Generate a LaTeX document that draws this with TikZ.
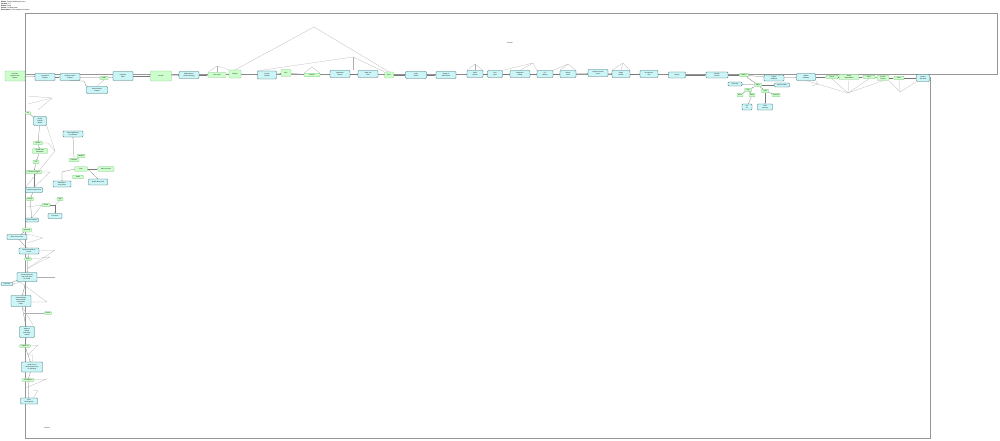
\documentclass[tikz,border=0pt]{standalone}
\usepackage{fontspec}
\setmainfont{Liberation Sans}
\definecolor{pdcyan}{RGB}{204,245,247}
\definecolor{pdteal}{RGB}{45,105,110}
\definecolor{pdgreen}{RGB}{204,255,204}
\definecolor{pdgreenline}{RGB}{130,190,130}
\definecolor{pdgrey}{RGB}{120,120,120}
\definecolor{pdlight}{RGB}{175,175,175}
\definecolor{pdframe}{RGB}{150,150,150}
\usetikzlibrary{arrows.meta,positioning}
\newcommand{\nodetext}{\fontsize{2.2}{2.6}\selectfont}
\newcommand{\headtext}{\fontsize{2.4}{2.9}\selectfont}

\begin{document}
\begin{tikzpicture}[x=0.05cm,y=-0.05cm,
  task/.style={draw=pdteal, fill=pdcyan, rounded corners=1.2pt, line width=0.4pt,
      font=\nodetext, align=center, inner sep=0.3pt, minimum height=0.35cm},
  gate/.style={draw=pdgreenline, fill=pdgreen, rounded corners=1pt, line width=0.3pt,
      font=\nodetext, align=center, inner sep=0.3pt, minimum height=0.18cm},
  seqline/.style={draw=pdgrey, line width=0.35pt, -{Stealth[length=1.2pt,width=1.1pt]}},
  backline/.style={draw=pdlight, line width=0.3pt},
  laneframe/.style={draw=pdframe, line width=0.6pt}]
\useasboundingbox (0,0) rectangle (1000,441);

% Header
\node[font=\headtext, align=left, anchor=north west, inner sep=0pt] (head) at (1,1)
  {\textbf{Name:} Feature delivery process\\\textbf{Version:} 1.0\\\textbf{Status:} Draft\\
   \textbf{Owner:} Product team\\\textbf{Description:} From request to release};

% Lanes
\draw[laneframe] (25,13) rectangle (997,74);
\draw[laneframe] (25,74) -- (25,438) -- (930,438) -- (930,77);
\node[font=\nodetext] (lanetop) at (510,43) {Product};
\node[font=\nodetext] (lanebot) at (47,428) {Product};

% Main row
\node[gate, minimum width=1cm, minimum height=0.5cm] (start) at (15,76) {Customer\\requests new\\feature};
\node[task, minimum width=1cm] (r1) at (45,77) {Log feature\\request};
\node[task, minimum width=1cm] (r2) at (70,77) {Analyse feature\\request};
\node[gate, minimum width=0.4cm] (r3) at (104,78) {Valid?};
\node[task, minimum width=1.05cm] (r4) at (97,90) {Reject feature\\request};
\node[task, minimum width=1cm, minimum height=0.45cm] (r5) at (123,76) {Estimate\\effort};
\node[gate, minimum width=1.05cm, minimum height=0.5cm] (r6) at (161,76) {Decide};
\node[task, minimum width=1cm] (r7) at (189,75) {Add feature to\\product backlog};
\node[gate, minimum width=0.9cm, minimum height=0.25cm] (r8) at (217,75) {Plan sprint};
\node[gate, minimum width=0.6cm, minimum height=0.4cm] (r9) at (235,74) {Ready?};
\node[task, minimum width=0.95cm, minimum height=0.4cm] (r10) at (267,75) {Design\\solution};
\node[gate, minimum width=0.5cm, minimum height=0.35cm] (r11) at (286,73) {OK?};
\node[gate, minimum width=0.8cm] (r12) at (312,75) {Review};
\node[task, minimum width=1cm] (r13) at (340,74) {Implement\\feature};
\node[task, minimum width=1cm] (r14) at (368,74) {Write unit\\tests};
\node[gate, minimum width=0.45cm, minimum height=0.3cm] (r15) at (389,75) {Pass?};
\node[task, minimum width=1.05cm] (r16) at (416,75) {Code\\review};
\node[task, minimum width=1cm] (r17) at (446,75) {Merge to\\main branch};
\node[task, minimum width=0.8cm] (r18) at (475,74) {Build\\release};
\node[task, minimum width=0.75cm] (r19) at (495,74) {Run\\tests};
\node[task, minimum width=1cm] (r20) at (520,74) {Integration\\testing};
\node[task, minimum width=0.8cm] (r21) at (545,74) {Fix\\defects};
\node[task, minimum width=0.8cm] (r22) at (568,74) {Retest\\build};
\node[task, minimum width=1cm] (r23) at (598,73) {Prepare release\\notes};
\node[task, minimum width=0.9cm] (r24) at (621,74) {Stage\\release};
\node[task, minimum width=0.9cm] (r25) at (649,74) {Acceptance\\test};
\node[task, minimum width=0.85cm, minimum height=0.3cm] (r26) at (677,75) {Deploy};
\node[task, minimum width=1.1cm, minimum height=0.3cm] (r27) at (717,75) {Monitor\\release};
\node[gate, minimum width=0.45cm] (r28) at (744,75) {Stable?};
\node[task, minimum width=1cm, minimum height=0.3cm] (r29) at (774,78) {Collect\\feedback};
\node[task, minimum width=0.95cm] (r30) at (806,77) {Update\\roadmap};
\node[gate, minimum width=0.6cm] (r31) at (832,77) {Report};
\node[gate, minimum width=1cm, minimum height=0.25cm] (r32) at (849,77) {Notify\\stakeholders};
\node[gate, minimum width=0.6cm] (r33) at (869,77) {Close};
\node[gate, minimum width=0.6cm, minimum height=0.25cm] (r34) at (883,78) {Archive\\request};
\node[gate, minimum width=0.5cm] (r35) at (899,78) {Done};
\node[task, minimum width=0.65cm] (r36) at (923,78) {Feature\\delivered};

\foreach \a/\b in {start/r1, r1/r2, r2/r3, r3/r5, r5/r6, r6/r7, r7/r8, r8/r9, r9/r10,
    r10/r11, r11/r12, r12/r13, r13/r14, r14/r15, r15/r16, r16/r17, r17/r18, r18/r19,
    r19/r20, r20/r21, r21/r22, r22/r23, r23/r24, r24/r25, r25/r26, r26/r27, r27/r28,
    r28/r29, r29/r30, r30/r31, r31/r32, r32/r33, r33/r34, r34/r35, r35/r36}
  \draw[seqline] (\a) -- (\b);
\draw[seqline] (r2.south) -- (84,81) -- (r4.north west);
\draw[backline] (r4.north) -- (r3.south);

% Branch after release check
\node[task, minimum width=0.7cm, minimum height=0.2cm] (b1) at (735,84) {Roll back};
\node[gate, minimum width=0.35cm] (b2) at (758,85) {Why?};
\node[task, minimum width=0.75cm, minimum height=0.2cm] (b3) at (782,85) {Open incident};
\node[gate, minimum width=0.35cm] (b4) at (748,90) {Bug};
\node[gate, minimum width=0.35cm] (b5) at (765,91) {Load};
\node[gate, minimum width=0.3cm] (b6) at (740,95) {Minor};
\node[gate, minimum width=0.3cm] (b7) at (752,95) {Major};
\node[gate, minimum width=0.4cm] (b8) at (776,95) {Scale up};
\node[task, minimum width=0.5cm, minimum height=0.3cm] (b9) at (747,107) {Hot\\fix};
\node[task, minimum width=0.75cm, minimum height=0.3cm] (b10) at (765,107) {Add\\capacity};
\draw[seqline] (r28) -- (b2);
\foreach \a/\b in {b2/b1, b2/b3, b2/b4, b2/b5, b4/b6, b4/b7, b5/b8, b7/b9, b5/b10}
  \draw[seqline] (\a) -- (\b);

% Top loops
\draw[backline] (r8.north west) -- (217,66) -- (r9.north west);
\draw[backline] (217,66) -- (r8.north);
\draw[backline] (r9.north) -- (314,27) -- (r15.north);
\draw[backline] (r10.north west) -- (353,57) -- (r15.north west);
\draw[backline] (353,57) -- (353,70);
\draw[backline] (r12.north west) -- (312,67) -- (r12.north east);
\draw[backline] (r18.north west) -- (475,64) -- (r18.north east);
\draw[backline] (475,64) -- (r18.north);
\draw[backline] (r19.north east) -- (533,63) -- (r21.north west);
\draw[backline] (533,63) -- (r20.north);
\draw[backline] (r21.north east) -- (568,64) -- (r22.north east);
\draw[backline] (568,64) -- (r22.north west);
\draw[backline] (r24.north west) -- (623,63) -- (r24.north east);
\draw[backline] (623,63) -- (r24.north);

% Closing loops
\draw[backline] (r30.south east) -- (818,84) -- (812,86);
\foreach \n in {r30, r31, r32, r33, r34}
  \draw[backline] (\n.south) -- (848,93);
\draw[backline] (r34.south east) -- (900,92) -- (r36.south west);
\draw[backline] (r35.south) -- (900,92);

% Left column
\node[gate, minimum width=0.3cm, minimum height=0.12cm] (c1) at (28,113) {Yes};
\node[task, minimum width=0.65cm, minimum height=0.45cm] (c2) at (40,121) {Clarify\\request\\details};
\node[gate, minimum width=0.45cm] (c3) at (38,143) {Unclear};
\node[gate, minimum width=0.75cm, minimum height=0.25cm] (c4) at (40,151) {Needs more\\information};
\node[gate, minimum width=0.3cm] (c5) at (36,162) {Yes};
\node[gate, minimum width=0.8cm] (c6) at (34,172) {Contact customer};
\node[task, minimum width=0.85cm, minimum height=0.25cm] (c7) at (34,190) {Update request form};
\node[gate, minimum width=0.35cm] (c8) at (30,199) {Priority};
\node[gate, minimum width=0.4cm] (c9) at (46,205) {Check};
\node[gate, minimum width=0.3cm] (c10) at (60,199) {High};
\node[task, minimum width=0.65cm, minimum height=0.2cm] (c11) at (32,220) {Queue request};
\node[task, minimum width=0.7cm, minimum height=0.25cm] (c12) at (55,216) {Fast track};
\node[gate, minimum width=0.45cm, minimum height=0.2cm] (c13) at (27,230) {Approved};
\node[task, minimum width=1cm, minimum height=0.25cm] (c14) at (17,237) {Write user stories};
\node[task, minimum width=1cm, minimum height=0.3cm] (c15) at (29,251) {Define acceptance\\criteria};
\node[gate, minimum width=0.35cm, minimum height=0.15cm] (c16) at (28,259) {Done};
\node[task, minimum width=1cm, minimum height=0.45cm] (c17) at (27,277) {Create mock-ups\\and wireframes\\for review};
\node[task, minimum width=0.6cm, minimum height=0.15cm] (c18) at (7,284) {UX team};
\node[task, minimum width=1cm, minimum height=0.55cm] (c19) at (21,301) {Review design\\with customer\\and product\\owner};
\node[gate, minimum width=0.35cm, minimum height=0.15cm] (c20) at (48,313) {Revise};
\node[task, minimum width=0.75cm, minimum height=0.55cm] (c21) at (27,332) {Approve\\design\\and scope\\of work};
\node[gate, minimum width=0.55cm, minimum height=0.15cm] (c22) at (25,346) {Signed off};
\node[task, minimum width=1.05cm, minimum height=0.5cm] (c23) at (32,367) {Hand over to\\development team\\for planning};
\node[gate, minimum width=0.6cm, minimum height=0.15cm] (c24) at (28,380) {Scheduled};
\node[task, minimum width=0.85cm, minimum height=0.3cm] (c25) at (29,401) {Start\\development};

\foreach \a/\b in {c1/c2, c2/c3, c3/c4, c4/c5, c5/c6, c6/c7, c7/c8, c8/c11, c13/c14,
    c14/c15, c15/c16, c16/c17, c17/c19, c19/c21, c21/c22, c22/c23, c23/c24, c24/c25}
  \draw[seqline] (\a) -- (\b);
\draw[seqline] (c18) -- (c17);
\draw[seqline] (c9.east) -- (55,205) -- (c12.north);
\draw[backline] (c10.south) -- (55,205);
\draw[backline] (27,207) -- (c9.west) -- (c11.north);

% Left column loops
\draw[backline] (28,96) -- (52,98) -- (28,104);
\draw[backline] (38,110) -- (52,98);
\draw[backline] (c2.south east) -- (55,151) -- (c7.north west);
\draw[backline] (c3.east) -- (48,143) -- (55,151);
\draw[backline] (c6.east) -- (50,172) -- (c7.north);
\draw[backline] (27,234) -- (43,238) -- (27,243);
\draw[backline] (c15.east) -- (55,250) -- (27,269);
\draw[backline] (c16.east) -- (50,257) -- (28,268);
\draw[backline] (c17.east) -- (55,277);
\draw[backline] (c18.east) -- (20,282) -- (47,302) -- (31,302);
\draw[backline] (24,313) -- (c20.west);
\draw[backline] (23,308) -- (33,325);
\draw[backline] (c22.east) -- (38,345) -- (28,355) -- (33,355) -- (32,362);
\draw[backline] (28,380) -- (47,379) -- (25,388);
\draw[backline] (33,390) -- (38,391) -- (33,398);

% Estimate sub-flow
\node[task, minimum width=1cm, minimum height=0.3cm] (m1) at (73,134) {Ask engineering\\for estimate};
\node[gate, minimum width=0.4cm] (m2) at (81,156) {Needed};
\node[gate, minimum width=0.5cm] (m3) at (74,160) {Complex};
\node[gate, minimum width=0.65cm, minimum height=0.22cm] (m4) at (81,169) {Size};
\node[gate, minimum width=0.8cm, minimum height=0.25cm] (m5) at (106,169) {Split into epics};
\node[gate, minimum width=0.55cm] (m6) at (78,177) {Small};
\node[task, minimum width=0.9cm, minimum height=0.3cm] (m7) at (62,184) {Estimate in\\story points};
\node[task, minimum width=0.95cm, minimum height=0.3cm] (m8) at (98,182) {Break down work};
\draw[seqline] (m3.north) -- (m1.south);
\draw[seqline] (m4.west) -- (62,172) -- (m7.north);
\draw[seqline] (m4.east) -- (m5.west);
\draw[seqline] (m4.east) -- (m8.north);
\end{tikzpicture}
\end{document}
